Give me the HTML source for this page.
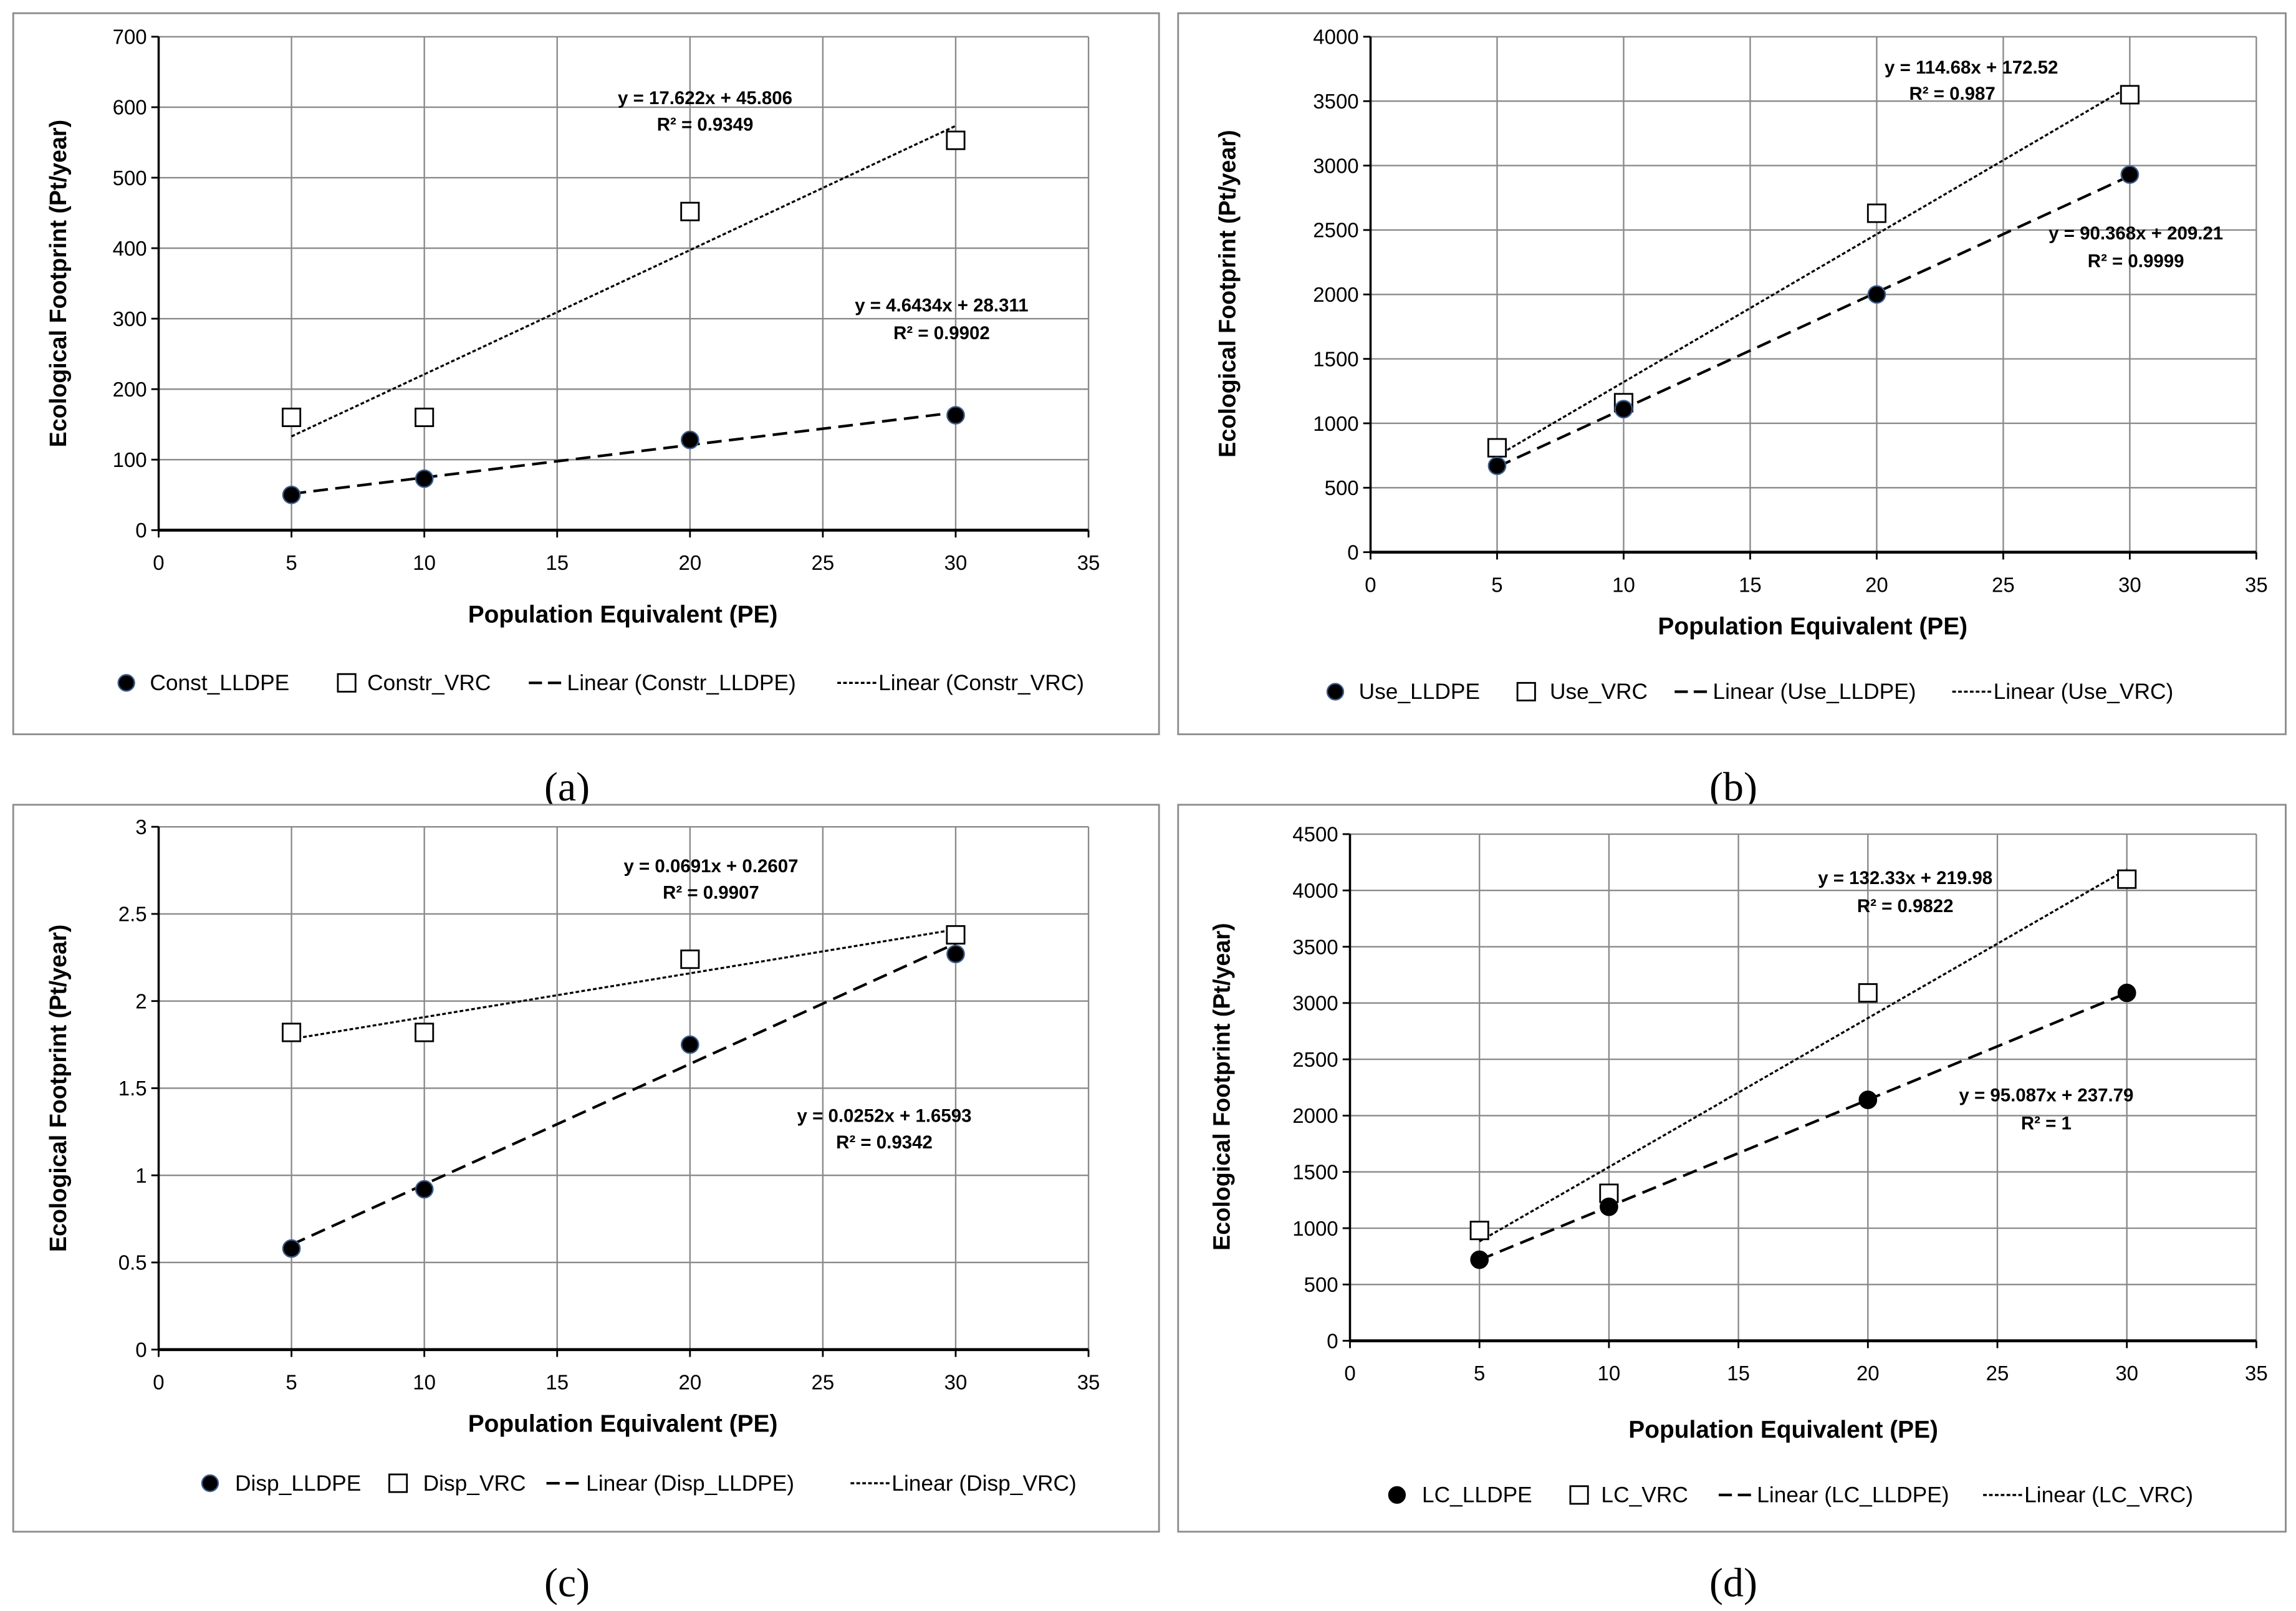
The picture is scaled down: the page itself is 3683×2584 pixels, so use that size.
<!DOCTYPE html>
<html><head><meta charset="utf-8"><style>
html,body{margin:0;padding:0;background:#fff;}
svg{display:block;}
text{font-family:"Liberation Sans Narrow","Liberation Sans",sans-serif;}
.cap{font-family:"Liberation Serif",serif;}
</style></head><body>
<svg id="fig" width="3683" height="2584" viewBox="0 0 1563 1097" preserveAspectRatio="none" xmlns="http://www.w3.org/2000/svg"></svg>
<script>
const xTicks=[0,5,10,15,20,25,30,35];
const xVals=[5,10,20,30];
const aLLDPE=[50,73,128,163];
const aVRC=[160,160,452,553];
const bLLDPE=[670,1110,2000,2930];
const bVRC=[810,1160,2630,3550];
const cLLDPE=[0.58,0.92,1.75,2.27];
const cVRC=[1.82,1.82,2.24,2.38];
const dLLDPE=[720,1190,2140,3090];
const dVRC=[980,1310,3090,4100];
const aTicks=[0,100,200,300,400,500,600,700];
const bTicks=[0,500,1000,1500,2000,2500,3000,3500,4000];
const cTicks=[0,0.5,1,1.5,2,2.5,3];
const dTicks=[0,500,1000,1500,2000,2500,3000,3500,4000,4500];
const aLegend=["Const_LLDPE","Constr_VRC","Linear (Constr_LLDPE)","Linear (Constr_VRC)"];
const bLegend=["Use_LLDPE","Use_VRC","Linear (Use_LLDPE)","Linear (Use_VRC)"];
const cLegend=["Disp_LLDPE","Disp_VRC","Linear (Disp_LLDPE)","Linear (Disp_VRC)"];
const dLegend=["LC_LLDPE","LC_VRC","Linear (LC_LLDPE)","Linear (LC_VRC)"];
const aEq=["y = 17.622x + 45.806","R² = 0.9349","y = 4.6434x + 28.311","R² = 0.9902"];
const bEq=["y = 114.68x + 172.52","R² = 0.987","y = 90.368x + 209.21","R² = 0.9999"];
const cEq=["y = 0.0691x + 0.2607","R² = 0.9907","y = 0.0252x + 1.6593","R² = 0.9342"];
const dEq=["y = 132.33x + 219.98","R² = 0.9822","y = 95.087x + 237.79","R² = 1"];

const NS="http://www.w3.org/2000/svg";
const svg=document.getElementById('fig');
function mk(tag,attrs,parent,txt){const e=document.createElementNS(NS,tag);for(const k in attrs)e.setAttribute(k,attrs[k]);if(txt!==undefined)e.textContent=txt;(parent||svg).appendChild(e);return e;}
function fit(xs,ys){const n=xs.length;let mx=0,my=0;for(let i=0;i<n;i++){mx+=xs[i];my+=ys[i];}mx/=n;my/=n;let sxy=0,sxx=0;for(let i=0;i<n;i++){sxy+=(xs[i]-mx)*(ys[i]-my);sxx+=(xs[i]-mx)**2;}const m=sxy/sxx;return [m,my-m*mx];}

function panel(id,L,ticks,ll,vrc,legend,eq){
  const g=mk('g',{},svg);
  
  
  const fr=mk('rect',{x:L.fx,y:L.fy,width:L.fw,height:L.fh,fill:'#fff',stroke:'#8c8c8c','stroke-width':1.2},g);
  
  
  const ymax=ticks[ticks.length-1];
  const X=v=>L.x0+(L.x1-L.x0)*v/35;
  const Y=v=>L.y0-(L.y0-L.y1)*v/ymax;
  // grid
  xTicks.forEach(t=>{if(t>0){const l=mk('line',{x1:X(t),x2:X(t),y1:L.y0,y2:L.y1,stroke:'#8a8a8a','stroke-width':1},g);}
    const tk=mk('line',{x1:X(t),x2:X(t),y1:L.y0,y2:L.y0+5,stroke:'#000','stroke-width':1.2},g);
    const tl=mk('text',{x:X(t),y:L.y0+27,'font-size':14,'text-anchor':'middle',fill:'#000'},g,String(t));});
  ticks.forEach(t=>{if(t>0){const l=mk('line',{x1:L.x0,x2:X(35),y1:Y(t),y2:Y(t),stroke:'#8a8a8a','stroke-width':1},g);}
    const tk=mk('line',{x1:L.x0-5,x2:L.x0,y1:Y(t),y2:Y(t),stroke:'#000','stroke-width':1.2},g);
    const tl=mk('text',{x:L.x0-8,y:Y(t)+5,'font-size':14,'text-anchor':'end',fill:'#000'},g,String(t));});
  const ya=mk('line',{x1:L.x0,x2:L.x0,y1:L.y0,y2:L.y1,stroke:'#000','stroke-width':1.5},g);
  const xa=mk('line',{x1:L.x0,x2:X(35),y1:L.y0,y2:L.y0,stroke:'#000','stroke-width':2},g);
  // trendlines
  const f1=fit(xVals,vrc),f2=fit(xVals,ll);
  const t1=mk('line',{x1:X(5),y1:Y(f1[0]*5+f1[1]),x2:X(30),y2:Y(f1[0]*30+f1[1]),stroke:'#000','stroke-width':1.4,'stroke-dasharray':'2.5,1.5'},g);
  
  const t2=mk('line',{x1:X(5),y1:Y(f2[0]*5+f2[1]),x2:X(30),y2:Y(f2[0]*30+f2[1]),stroke:'#000','stroke-width':1.8,'stroke-dasharray':'10,5'},g);
  
  // markers
  xVals.forEach((x,i)=>{
    const s=mk('rect',{x:X(x)-6,y:Y(vrc[i])-6,width:12,height:12,fill:'#fff',stroke:'#000','stroke-width':1.2},g);
    
    const c=mk('circle',{cx:X(x),cy:Y(ll[i]),r:5.8,fill:'#000',stroke:L.blue?'#3b5b8a':'#000','stroke-width':1},g);
    
  });
  // equations
  const E=L.eq;
  [[E[0],E[1],eq[0]],[E[2],E[3],eq[1]],[E[4],E[5],eq[2]],[E[6],E[7],eq[3]]].forEach((p,i)=>{
    const t=mk('text',{x:p[0],y:p[1],'font-size':12.5,'font-weight':'bold','text-anchor':'middle',fill:'#000'},g,p[2]);
    
  });
  // axis titles
  const yt=mk('text',{x:0,y:0,'font-size':16,'font-weight':'bold','text-anchor':'middle',fill:'#000',transform:`translate(${L.ylx},${L.yly}) rotate(-90)`},g,'Ecological Footprint (Pt/year)');
  
  const xt=mk('text',{x:L.xlx,y:L.xly,'font-size':16.5,'font-weight':'bold','text-anchor':'middle',fill:'#000'},g,'Population Equivalent (PE)');
  
  // legend
  const Lg=L.lg,ly=L.ly;
  const lc=mk('circle',{cx:Lg[0],cy:ly,r:5.5,fill:'#000',stroke:L.blue?'#3b5b8a':'#000'},g);
  const ls=mk('rect',{x:Lg[2]-6,y:ly-6,width:12,height:12,fill:'#fff',stroke:'#000','stroke-width':1.2},g);
  const ld=mk('line',{x1:Lg[4],x2:Lg[4]+25,y1:ly,y2:ly,stroke:'#000','stroke-width':1.8,'stroke-dasharray':'9,4'},g);
  const lt=mk('line',{x1:Lg[6]-28,x2:Lg[6],y1:ly,y2:ly,stroke:'#000','stroke-width':1.4,'stroke-dasharray':'2.5,1.5'},g);
  [Lg[1],Lg[3],Lg[5],Lg[6]].forEach((x,i)=>{
    const t=mk('text',{x:x,y:ly+5,'font-size':15,fill:'#000'},g,legend[i]);
    
  });
  const cp=mk('text',{x:L.cx,y:L.cy,'font-size':28,'text-anchor':'middle',fill:'#000',class:'cap'},g,'('+id+')');
  
}
panel('a',{fx:9,fy:9,fw:780,fh:491,x0:108,x1:741,y0:361,y1:25,eq:[480,71,480,89,641,212,641,231],ylx:45,yly:193,xlx:424,xly:424,lg:[86,102,236,250,360,386,598],ly:465,cx:386,cy:545,blue:true},aTicks,aLLDPE,aVRC,aLegend,aEq);
panel('b',{fx:802,fy:9,fw:754,fh:491,x0:933,x1:1536,y0:376,y1:25,eq:[1342,50,1329,68,1454,163,1454,182],ylx:841,yly:200,xlx:1234,xly:432,lg:[909,925,1039,1055,1140,1166,1357],ly:471,cx:1180,cy:545,blue:true},bTicks,bLLDPE,bVRC,bLegend,bEq);
panel('c',{fx:9,fy:548,fw:780,fh:495,x0:108,x1:741,y0:919,y1:563,eq:[484,594,484,612,602,764,602,782],ylx:45,yly:741,xlx:424,xly:975,lg:[143,160,271,288,372,399,607],ly:1010,cx:386,cy:1087,blue:true},cTicks,cLLDPE,cVRC,cLegend,cEq);
panel('d',{fx:802,fy:548,fw:754,fh:495,x0:919,x1:1536,y0:913,y1:568,eq:[1297,602,1297,621,1393,750,1393,769],ylx:837,yly:740,xlx:1214,xly:979,lg:[951,968,1075,1090,1170,1196,1378],ly:1018,cx:1180,cy:1087,blue:false},dTicks,dLLDPE,dVRC,dLegend,dEq);
</script>
</body></html>
